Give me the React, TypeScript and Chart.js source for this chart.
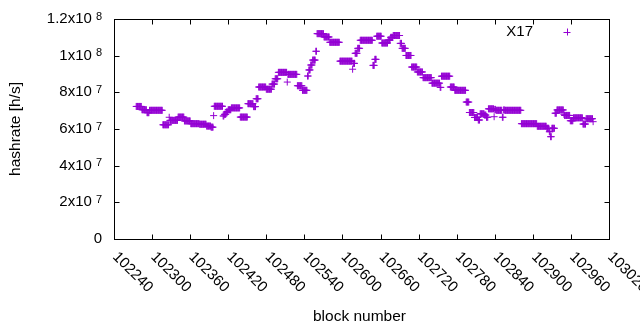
import React, { useEffect, useRef } from 'react';
import { Chart, registerables } from 'chart.js';

Chart.register(...registerables);

const seriesName = 'X17';
const xAxisTitle = 'block number';
const yAxisTitle = 'hashrate [h/s]';

const xTickValues = [102240, 102300, 102360, 102420, 102480, 102540, 102600, 102660, 102720, 102780, 102840, 102900, 102960, 103020];
const yTickValues = [0, 2e7, 4e7, 6e7, 8e7, 1e8, 1.2e8];
const yTickMantissa = ['0', '2x10', '4x10', '6x10', '8x10', '1x10', '1.2x10'];
const yTickExponent = ['', '7', '7', '7', '7', '8', '8'];

// Each run: first block of a stretch where the hashrate estimate stays at the same value
const runStartBlock = [
  102275, 102284, 102292, 102296, 102317, 102327, 102328, 102341, 102351, 102361,
  102375, 102386, 102393, 102397, 102398, 102412, 102414, 102417, 102420, 102425,
  102439, 102451, 102460, 102464, 102468, 102480, 102489, 102494, 102499, 102513,
  102514, 102529, 102537, 102545, 102547, 102550, 102553, 102558, 102560, 102571,
  102580, 102596, 102616, 102617, 102620, 102624, 102628, 102648, 102651, 102654,
  102662, 102672, 102676, 102680, 102691, 102694, 102700, 102709, 102718, 102727,
  102741, 102754, 102756, 102770, 102777, 102795, 102800, 102808, 102814, 102817,
  102824, 102827, 102830, 102839, 102840, 102842, 102852, 102854, 102856, 102882,
  102907, 102922, 102926, 102928, 102930, 102935, 102938, 102949, 102950, 102959,
  102964, 102979, 102984, 102995,
];
const runHashrate = [
  72.3e6, 70.5e6, 68.9e6, 70.2e6, 62.3e6, 66.4e6, 64.7e6, 66.5e6, 64.4e6, 62.9e6,
  62.6e6, 61.6e6, 61.0e6, 67.3e6, 72.4e6, 67.1e6, 68.0e6, 69.3e6, 70.5e6, 71.5e6,
  66.5e6, 73.8e6, 72.2e6, 76.5e6, 82.9e6, 81.7e6, 84.5e6, 87.4e6, 90.9e6, 85.6e6,
  89.8e6, 83.6e6, 81.1e6, 88.9e6, 92.2e6, 94.9e6, 97.6e6, 102.4e6, 112.0e6, 110.2e6,
  107.3e6, 97.0e6, 92.6e6, 95.8e6, 101.3e6, 104.0e6, 108.4e6, 94.7e6, 98.0e6, 110.6e6,
  106.9e6, 108.5e6, 110.0e6, 111.0e6, 106.7e6, 104.0e6, 100.1e6, 93.8e6, 91.1e6, 88.0e6,
  85.0e6, 82.7e6, 88.8e6, 82.9e6, 81.1e6, 74.7e6, 69.0e6, 66.3e6, 64.9e6, 68.3e6,
  67.6e6, 66.4e6, 71.0e6, 66.7e6, 70.7e6, 70.2e6, 66.4e6, 70.4e6, 70.2e6, 62.9e6,
  61.5e6, 60.4e6, 58.5e6, 55.8e6, 60.4e6, 68.6e6, 70.4e6, 68.0e6, 67.4e6, 64.5e6,
  66.1e6, 62.7e6, 65.6e6, 64.0e6,
];
const lastBlock = 102995;

const COLOR = '#9400d3';
const FONT = '"Liberation Sans", Arial, sans-serif';
const MAIN_SIZE = 15;
const EXP_SIZE = 11;
const POINT_R = 3.5;

function buildPoints() {
  const pts: { x: number; y: number }[] = [];
  for (let i = 0; i < runStartBlock.length; i++) {
    const end = i + 1 < runStartBlock.length ? runStartBlock[i + 1] : lastBlock + 1;
    for (let b = runStartBlock[i]; b < end; b++) pts.push({ x: b, y: runHashrate[i] });
  }
  return pts;
}

const gnuplotDecor = {
  id: 'gnuplotDecor',
  afterDraw(chart: any) {
    const ctx: CanvasRenderingContext2D = chart.ctx;
    const { left, right, top, bottom } = chart.chartArea;
    const xs = chart.scales.x;
    const ys = chart.scales.y;
    const L = Math.round(left) + 0.5;
    const R = Math.round(right) + 0.5;
    const T = Math.round(top) + 0.5;
    const B = Math.round(bottom) + 0.5;
    const tick = 5;
    ctx.save();
    ctx.strokeStyle = '#000';
    ctx.lineWidth = 1;
    ctx.strokeRect(L, T, R - L, B - T);
    ctx.beginPath();
    xTickValues.forEach((v) => {
      const px = Math.round(xs.getPixelForValue(v)) + 0.5;
      ctx.moveTo(px, B); ctx.lineTo(px, B - tick);
      ctx.moveTo(px, T); ctx.lineTo(px, T + tick);
    });
    yTickValues.forEach((v) => {
      const py = Math.round(ys.getPixelForValue(v)) + 0.5;
      ctx.moveTo(L, py); ctx.lineTo(L + tick, py);
      ctx.moveTo(R, py); ctx.lineTo(R - tick, py);
    });
    ctx.stroke();

    ctx.fillStyle = '#000';
    // y tick labels with superscript exponent
    const yRight = 102;
    yTickValues.forEach((v, i) => {
      const py = ys.getPixelForValue(v);
      const main = yTickMantissa[i];
      const exp = yTickExponent[i];
      ctx.font = `${EXP_SIZE}px ${FONT}`;
      const ew = exp ? ctx.measureText(exp).width : 0;
      const gap = exp ? 4 : 0;
      ctx.font = `${MAIN_SIZE}px ${FONT}`;
      const mw = ctx.measureText(main).width;
      const x0 = yRight - ew - gap - mw;
      ctx.textAlign = 'left';
      ctx.textBaseline = 'middle';
      ctx.fillText(main, x0, py);
      if (exp) {
        ctx.font = `${EXP_SIZE}px ${FONT}`;
        ctx.textBaseline = 'alphabetic';
        ctx.fillText(exp, x0 + mw + gap, py + 0.5);
      }
    });

    // x tick labels rotated clockwise by 45 degrees
    ctx.font = `${MAIN_SIZE}px ${FONT}`;
    xTickValues.forEach((v) => {
      const px = xs.getPixelForValue(v);
      ctx.save();
      ctx.translate(px + 1, B + 15);
      ctx.rotate(Math.PI / 4);
      ctx.textAlign = 'left';
      ctx.textBaseline = 'middle';
      ctx.fillText(String(v), 0, 0);
      ctx.restore();
    });

    // axis titles
    ctx.font = `${MAIN_SIZE + 0.5}px ${FONT}`;
    ctx.textAlign = 'center';
    ctx.textBaseline = 'alphabetic';
    ctx.fillText(xAxisTitle, (left + right) / 2 - 2, 321);
    ctx.save();
    ctx.translate(16, (top + bottom) / 2);
    ctx.rotate(-Math.PI / 2);
    ctx.textBaseline = 'middle';
    ctx.fillText(yAxisTitle, 0, 0);
    ctx.restore();

    // key
    ctx.font = `${MAIN_SIZE}px ${FONT}`;
    ctx.textAlign = 'right';
    ctx.textBaseline = 'middle';
    ctx.fillText(seriesName, 533, 32);
    ctx.strokeStyle = COLOR;
    ctx.beginPath();
    ctx.moveTo(567 - POINT_R, 32.5); ctx.lineTo(567 + POINT_R, 32.5);
    ctx.moveTo(567.5, 32 - POINT_R); ctx.lineTo(567.5, 32 + POINT_R);
    ctx.stroke();
    ctx.restore();
  },
};

export default function App() {
  const ref = useRef<HTMLCanvasElement | null>(null);
  useEffect(() => {
    document.body.style.margin = '0';
    if (!ref.current) return;
    const chart = new Chart(ref.current, {
      type: 'scatter',
      data: {
        datasets: [
          {
            label: seriesName,
            data: buildPoints(),
            pointStyle: 'cross',
            pointRadius: POINT_R,
            pointHoverRadius: POINT_R,
            borderColor: COLOR,
            backgroundColor: COLOR,
            borderWidth: 1,
          },
        ],
      },
      options: {
        animation: false,
        responsive: false,
        devicePixelRatio: 1,
        events: [],
        layout: { padding: { left: 114, right: 31, top: 19, bottom: 91 } },
        scales: {
          x: { type: 'linear', min: 102240, max: 103020, display: false },
          y: { type: 'linear', min: 0, max: 1.2e8, display: false },
        },
        plugins: { legend: { display: false }, tooltip: { enabled: false } },
      },
      plugins: [gnuplotDecor],
    });
    return () => chart.destroy();
  }, []);
  return (
    <div style={{ position: 'absolute', left: 0, top: 0, width: 640, height: 330, background: '#fff' }}>
      <canvas ref={ref} width={640} height={330} style={{ display: 'block' }} />
    </div>
  );
}
